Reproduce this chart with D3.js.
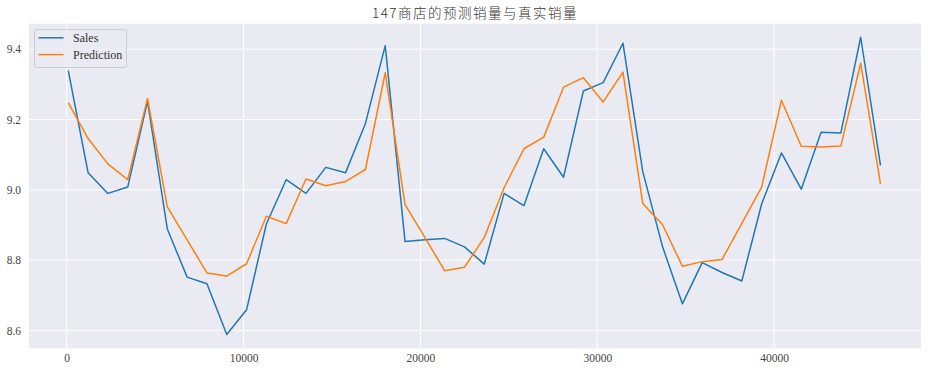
<!DOCTYPE html>
<html>
<head>
<meta charset="utf-8">
<script src="https://cdn.jsdelivr.net/npm/d3@7"></script>
<style>
  html, body { margin: 0; padding: 0; background: #ffffff; }
  svg { display: block; }
</style>
</head>
<body>
<svg id="chart" width="928" height="374"></svg>
<script>
const titleText = "147商店的预测销量与真实销量";
const seriesNames = ["Sales", "Prediction"];
const xValues = [90, 1210, 2330, 3450, 4570, 5690, 6810, 7930, 9050, 10170,
  11290, 12410, 13530, 14650, 15770, 16890, 18010, 19130, 20250, 21370,
  22490, 23610, 24730, 25850, 26970, 28090, 29210, 30330, 31450, 32570,
  33690, 34810, 35930, 37050, 38170, 39290, 40410, 41530, 42650, 43770,
  44890, 46010];
const sales = [9.339, 9.049, 8.990, 9.008, 9.252, 8.889, 8.752, 8.733, 8.589, 8.659,
  8.903, 9.029, 8.990, 9.064, 9.049, 9.189, 9.410, 8.853, 8.858, 8.862,
  8.838, 8.789, 8.990, 8.955, 9.117, 9.036, 9.281, 9.305, 9.417, 9.052,
  8.838, 8.676, 8.793, 8.765, 8.741, 8.960, 9.105, 9.002, 9.164, 9.162,
  9.434, 9.070];
const prediction = [9.248, 9.146, 9.074, 9.029, 9.260, 8.952, 8.858, 8.764, 8.755, 8.790,
  8.925, 8.904, 9.031, 9.012, 9.024, 9.058, 9.333, 8.958, 8.865, 8.770,
  8.780, 8.865, 9.006, 9.117, 9.150, 9.292, 9.319, 9.250, 9.335, 8.961,
  8.901, 8.783, 8.796, 8.802, 8.905, 9.008, 9.255, 9.124, 9.122, 9.125,
  9.360, 9.017];
const xTicks = [0, 10000, 20000, 30000, 40000];
const yTicks = [8.6, 8.8, 9.0, 9.2, 9.4];

const colors = ["#1f77b4", "#ff7f0e"];
const latinFont = "'Liberation Serif', 'DejaVu Serif', serif";
const cjkFont = "'Noto Sans CJK SC', 'Liberation Serif', serif";

const svg = d3.select("#chart");
const plot = { left: 29, right: 921, top: 23.7, bottom: 348.3 };

const x = d3.scaleLinear().domain([-2130, 48300]).range([plot.left, plot.right]);
const y = d3.scaleLinear().domain([8.5496, 9.4725]).range([plot.bottom, plot.top]);

// background
svg.append("rect")
  .attr("x", plot.left).attr("y", plot.top)
  .attr("width", plot.right - plot.left).attr("height", plot.bottom - plot.top)
  .attr("fill", "#eaeaf2");

// grid
const grid = svg.append("g");
grid.selectAll("line.gx").data(xTicks).join("line")
  .attr("x1", d => x(d)).attr("x2", d => x(d))
  .attr("y1", plot.top).attr("y2", plot.bottom)
  .attr("stroke", "#ffffff").attr("stroke-width", 1);
grid.selectAll("line.gy").data(yTicks).join("line")
  .attr("x1", plot.left).attr("x2", plot.right)
  .attr("y1", d => y(d)).attr("y2", d => y(d))
  .attr("stroke", "#ffffff").attr("stroke-width", 1);

// axes (labels only, seaborn darkgrid style)
const xAxis = d3.axisBottom(x).tickValues(xTicks).tickFormat(d3.format("d")).tickSize(0).tickPadding(6);
const gx = svg.append("g").attr("transform", `translate(0,${plot.bottom})`).call(xAxis);
gx.select(".domain").remove();
gx.selectAll("text").attr("font-family", latinFont).attr("font-size", 11.5).attr("fill", "#444444");

const yAxis = d3.axisLeft(y).tickValues(yTicks).tickFormat(d3.format(".1f")).tickSize(0).tickPadding(8);
const gy = svg.append("g").attr("transform", `translate(${plot.left},0)`).call(yAxis);
gy.select(".domain").remove();
gy.selectAll("text").attr("font-family", latinFont).attr("font-size", 11.5).attr("fill", "#444444");

// lines
const line = d3.line().x((d, i) => x(xValues[i])).y(d => y(d));
const clip = svg.append("clipPath").attr("id", "clip").append("rect")
  .attr("x", plot.left).attr("y", plot.top)
  .attr("width", plot.right - plot.left).attr("height", plot.bottom - plot.top);
[sales, prediction].forEach((s, k) => {
  svg.append("path")
    .datum(s)
    .attr("d", line)
    .attr("fill", "none")
    .attr("stroke", colors[k])
    .attr("stroke-width", 1.5)
    .attr("stroke-linejoin", "round")
    .attr("clip-path", "url(#clip)");
});

// title
const title = svg.append("text")
  .attr("x", (plot.left + plot.right) / 2)
  .attr("y", 18)
  .attr("text-anchor", "middle")
  .attr("fill", "#333333")
  .attr("font-family", cjkFont)
  .attr("font-weight", 300)
  .attr("font-size", 13.5)
  .attr("letter-spacing", 1.5)
  .text(titleText);

// legend
const lg = svg.append("g");
lg.append("rect")
  .attr("x", 34.5).attr("y", 29.5).attr("width", 92).attr("height", 38)
  .attr("rx", 2.5)
  .attr("fill", "#eaeaf2").attr("fill-opacity", 0.8)
  .attr("stroke", "#cccccc").attr("stroke-width", 1);
seriesNames.forEach((name, i) => {
  const yy = 37.8 + i * 16.8;
  lg.append("line")
    .attr("x1", 38.5).attr("x2", 63.5).attr("y1", yy).attr("y2", yy)
    .attr("stroke", colors[i]).attr("stroke-width", 1.5);
  lg.append("text")
    .attr("x", 73).attr("y", yy).attr("dy", "0.35em")
    .attr("font-family", latinFont).attr("font-size", 12)
    .attr("fill", "#333333")
    .text(name);
});
</script>
</body>
</html>
